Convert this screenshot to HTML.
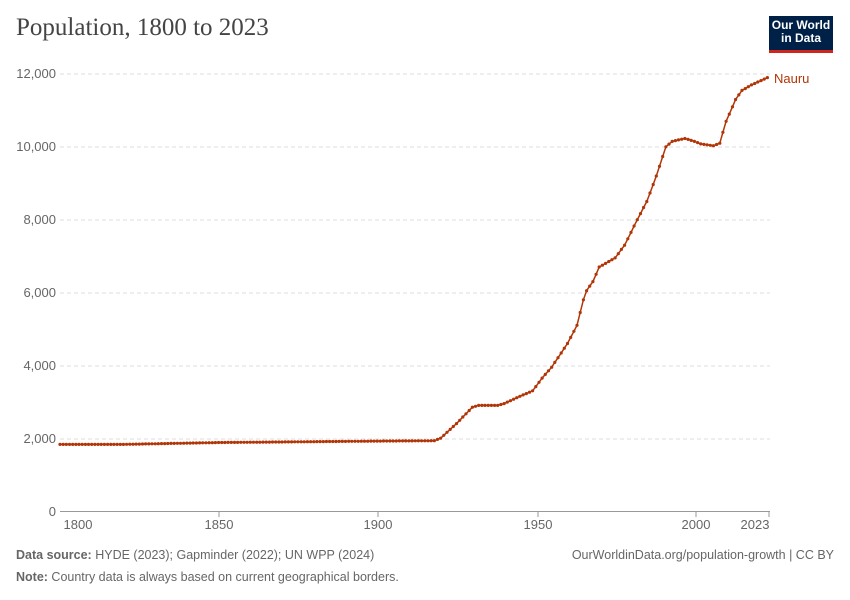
<!DOCTYPE html>
<html><head><meta charset="utf-8"><style>
body{margin:0;background:#fff;width:850px;height:600px;overflow:hidden;font-family:"Liberation Sans",sans-serif}
.t{position:absolute}
</style></head><body>
<div class="t" style="left:16px;top:14px;font-family:'Liberation Serif',serif;font-size:25px;color:#444">Population, 1800 to 2023</div>
<div class="t" style="left:769px;top:16px;width:64px;background:#002147;border-bottom:3px solid #ce261e;color:#fff;font-size:12px;font-weight:bold;line-height:13px;text-align:center;padding-top:3px;height:31px">Our World<br>in Data</div>
<svg class="t" style="left:0;top:0" width="850" height="600" id="s">
<g stroke="#ddd" stroke-dasharray="4,3">
<line x1="60" x2="770" y1="74" y2="74"/><line x1="60" x2="770" y1="147" y2="147"/><line x1="60" x2="770" y1="220" y2="220"/><line x1="60" x2="770" y1="293" y2="293"/><line x1="60" x2="770" y1="366" y2="366"/><line x1="60" x2="770" y1="439" y2="439"/>
</g>
<line x1="60" x2="770" y1="511.5" y2="511.5" stroke="#999"/>
<g font-size="13" fill="#666" text-anchor="end">
<text x="56" y="78">12,000</text><text x="56" y="151">10,000</text><text x="56" y="224">8,000</text><text x="56" y="297">6,000</text><text x="56" y="370">4,000</text><text x="56" y="443">2,000</text><text x="56" y="516">0</text>
</g>
<g stroke="#999"><line x1="219" x2="219" y1="512" y2="517"/><line x1="378" x2="378" y1="512" y2="517"/><line x1="538" x2="538" y1="512" y2="517"/><line x1="696" x2="696" y1="512" y2="517"/><line x1="769" x2="769" y1="512" y2="517"/></g>
<g font-size="13" fill="#666" text-anchor="middle">
<text x="78" y="529">1800</text><text x="219" y="529">1850</text><text x="378" y="529">1900</text><text x="538" y="529">1950</text><text x="696" y="529">2000</text><text x="755" y="529">2023</text>
</g>
<text x="774" y="83" font-size="13" fill="#b13507">Nauru</text>
<g id="d"></g>
<text x="16" y="559" font-size="12.5" fill="#666"><tspan font-weight="bold">Data source:</tspan> HYDE (2023); Gapminder (2022); UN WPP (2024)</text>
<text x="834" y="559" font-size="12.5" fill="#666" text-anchor="end">OurWorldinData.org/population-growth | CC BY</text>
<text x="16" y="581" font-size="12.5" fill="#666"><tspan font-weight="bold">Note:</tspan> Country data is always based on current geographical borders.</text>
</svg>
<script>
var k=[[1800,1830],[1820,1830],[1850,1880],[1900,1920],[1918,1930],[1920,2000],[1925,2400],[1930,2850],[1932,2900],[1938,2900],[1940,2950],[1945,3150],[1949,3300],[1952,3650],[1955,3950],[1960,4600],[1963,5100],[1965,5800],[1966,6050],[1968,6300],[1970,6700],[1975,6950],[1978,7300],[1982,8000],[1985,8500],[1988,9200],[1991,10000],[1993,10150],[1997,10230],[2000,10150],[2002,10080],[2006,10030],[2008,10100],[2010,10700],[2013,11300],[2015,11550],[2018,11700],[2023,11900]];
function v(y){for(var i=0;i<k.length-1;i++){if(y<=k[i+1][0]){var a=k[i],b=k[i+1];return a[1]+(b[1]-a[1])*(y-a[0])/(b[0]-a[0]);}}return k[k.length-1][1];}
var pts=[],c="";
for(var y=1800;y<=2023;y++){var X=60+(y-1800)*3.172,Y=511-v(y)*437/12000;pts.push(X.toFixed(1)+","+Y.toFixed(1));c+='<circle cx="'+X.toFixed(1)+'" cy="'+Y.toFixed(1)+'" r="1.6" fill="#b13507"/>';}
document.getElementById("d").innerHTML='<polyline fill="none" stroke="#b13507" stroke-width="1.5" points="'+pts.join(" ")+'"/>'+c;
</script>
</body></html>
